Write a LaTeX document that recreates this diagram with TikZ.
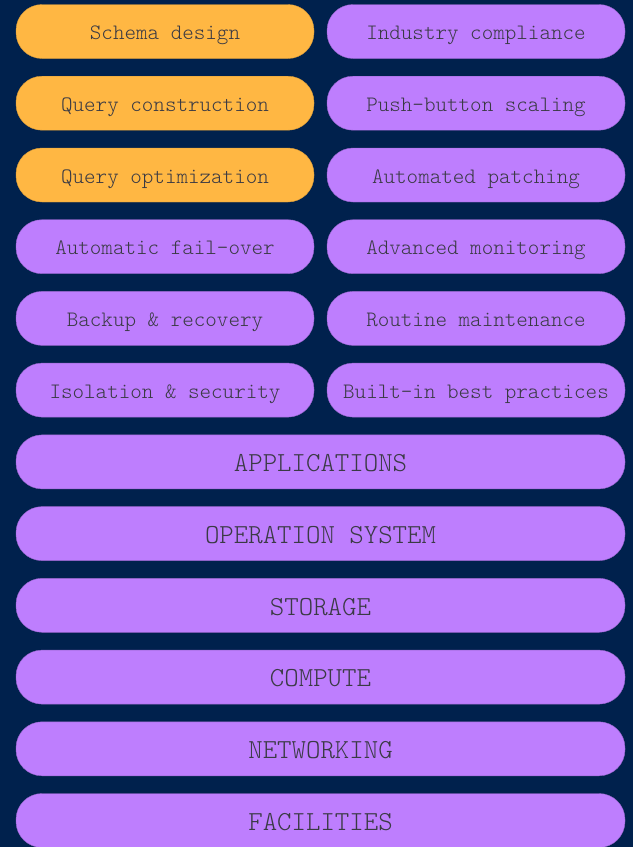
\documentclass[tikz,border=0pt]{standalone}
\usepackage{fontspec}
\newfontfamily\lightmono{Latin Modern Mono Light}
\usetikzlibrary{positioning}

\definecolor{navy}{HTML}{00214D}
\definecolor{amber}{HTML}{FFB743}
\definecolor{violet}{HTML}{BE7EFE}
\definecolor{inkgrey}{HTML}{3A3A44}

\tikzset{
  pill/.style={rounded corners=26pt, minimum height=54pt, inner sep=0pt, text height=18pt, text depth=2pt, text=inkgrey, font=\lightmono\fontsize{22}{26}\selectfont},
  half/.style={pill, minimum width=298pt},
  wide/.style={pill, minimum width=609pt, text height=21.4pt, font=\lightmono\fontsize{27.5}{32}\selectfont},
  duty/.style={fill=amber, draw=amber!85!black, line width=0.4pt},
  managed/.style={fill=violet, draw=violet!80!black, line width=0.4pt},
}

\begin{document}
\begin{tikzpicture}[x=1pt,y=-1pt]
        % Background
        \fill[navy] (0,0) rectangle (633,847);
        \useasboundingbox (0,0) rectangle (633,847);

        % Left column
        \node[half,duty] (schema) at (165,31.5) {Schema design};
        \node[half,duty] (qcons) at (165,103.2) {Query construction};
        \node[half,duty] (qopt) at (165,175) {Query optimization};
        \node[half,managed] (failover) at (165,246.7) {Automatic fail-over};
        \node[half,managed] (backup) at (165,318.4) {Backup \& recovery};
        \node[half,managed] (isolation) at (165,390.1) {Isolation \& security};

        % Right column
        \node[half,managed] (compliance) at (476,31.5) {Industry compliance};
        \node[half,managed] (scaling) at (476,103.2) {Push-button scaling};
        \node[half,managed] (patching) at (476,175) {Automated patching};
        \node[half,managed] (monitoring) at (476,246.7) {Advanced monitoring};
        \node[half,managed] (maintenance) at (476,318.4) {Routine maintenance};
        \node[half,managed] (practices) at (476,390.1) {Built-in best practices};

        % Stack
        \node[wide,managed] (apps) at (320.5,461.9) {APPLICATIONS};
        \node[wide,managed] (os) at (320.5,533.6) {OPERATION SYSTEM};
        \node[wide,managed] (storage) at (320.5,605.3) {STORAGE};
        \node[wide,managed] (compute) at (320.5,677.1) {COMPUTE};
        \node[wide,managed] (network) at (320.5,748.8) {NETWORKING};
        \node[wide,managed] (facilities) at (320.5,820.5) {FACILITIES};
\end{tikzpicture}
\end{document}
